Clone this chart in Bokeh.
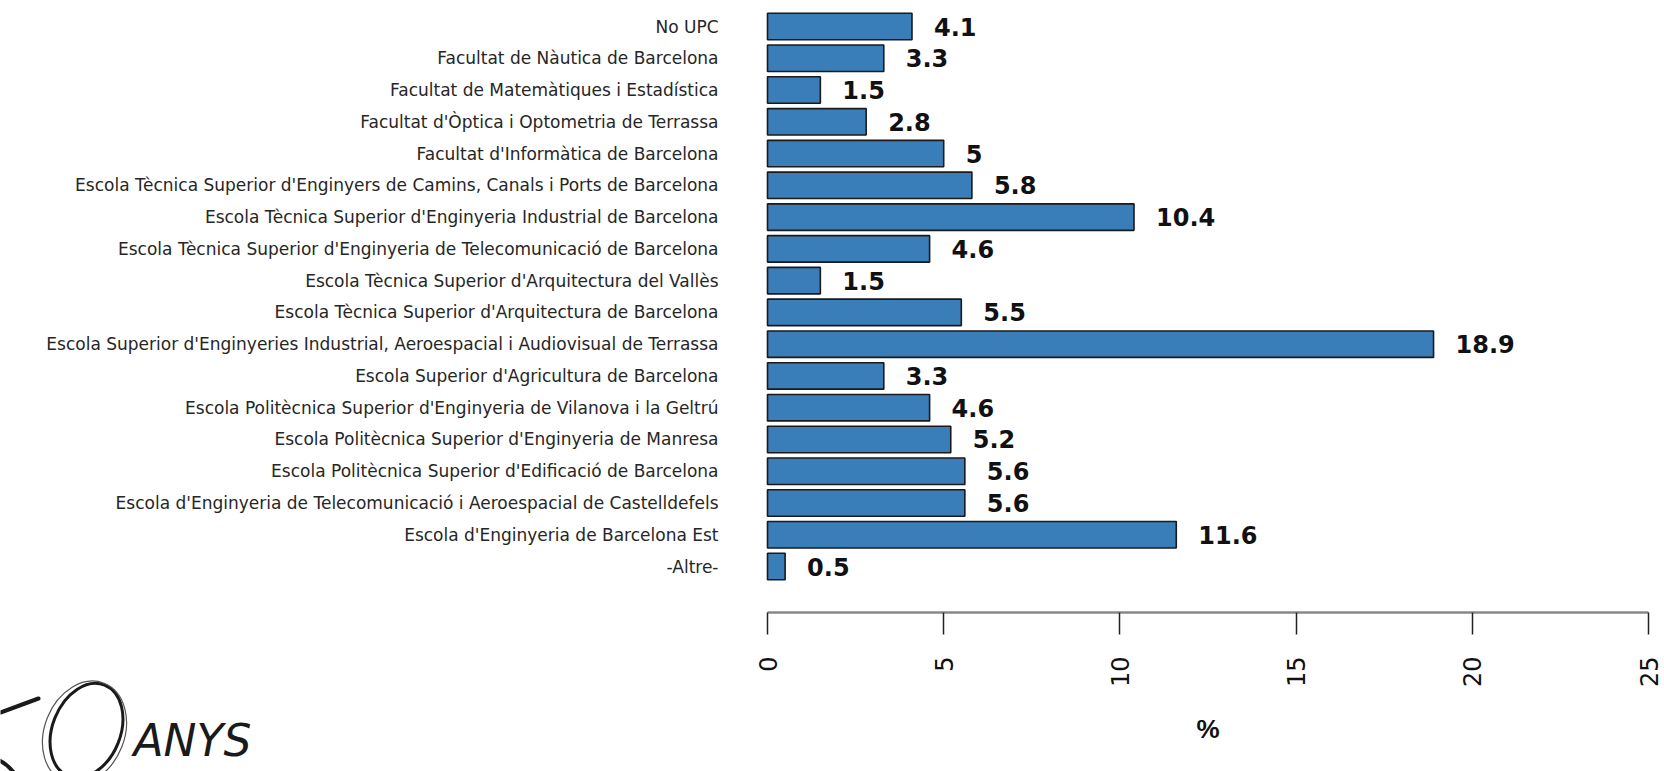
import math
from bokeh.plotting import figure
from bokeh.models import FixedTicker, ColumnDataSource, Range1d
from bokeh.embed import file_html
from bokeh.resources import INLINE
from bokeh.core.properties import value

categories = [
    "No UPC",
    "Facultat de Nàutica de Barcelona",
    "Facultat de Matemàtiques i Estadística",
    "Facultat d'Òptica i Optometria de Terrassa",
    "Facultat d'Informàtica de Barcelona",
    "Escola Tècnica Superior d'Enginyers de Camins, Canals i Ports de Barcelona",
    "Escola Tècnica Superior d'Enginyeria Industrial de Barcelona",
    "Escola Tècnica Superior d'Enginyeria de Telecomunicació de Barcelona",
    "Escola Tècnica Superior d'Arquitectura del Vallès",
    "Escola Tècnica Superior d'Arquitectura de Barcelona",
    "Escola Superior d'Enginyeries Industrial, Aeroespacial i Audiovisual de Terrassa",
    "Escola Superior d'Agricultura de Barcelona",
    "Escola Politècnica Superior d'Enginyeria de Vilanova i la Geltrú",
    "Escola Politècnica Superior d'Enginyeria de Manresa",
    "Escola Politècnica Superior d'Edificació de Barcelona",
    "Escola d'Enginyeria de Telecomunicació i Aeroespacial de Castelldefels",
    "Escola d'Enginyeria de Barcelona Est",
    "-Altre-",
]
values = [4.1, 3.3, 1.5, 2.8, 5, 5.8, 10.4, 4.6, 1.5, 5.5, 18.9, 3.3, 4.6, 5.2, 5.6, 5.6, 11.6, 0.5]
value_labels = ["4.1", "3.3", "1.5", "2.8", "5", "5.8", "10.4", "4.6", "1.5", "5.5", "18.9",
                "3.3", "4.6", "5.2", "5.6", "5.6", "11.6", "0.5"]
x_ticks = [0, 5, 10, 15, 20, 25]
x_label = "%"
logo_text = "ANYS"

n = len(categories)
ypos = [n - 1 - i for i in range(n)]

# ---- layout constants (pixels) ----
W, H = 1664, 771
X0_PX = 767            # page x of value 0
X25_PX = 1648          # page x of value 25
AXIS_PX = 612          # page y of the x axis line
Y_TOP = n - 1 + 0.819
Y_AXIS = -1.448
PXU_Y = AXIS_PX / (Y_TOP - Y_AXIS)
PXU_X = (X25_PX - X0_PX) / 25.0
X_START = -X0_PX / PXU_X
X_END = X_START + W / PXU_X
Y_BOT = Y_TOP - H / PXU_Y


def dx(page_x):
    return X_START + page_x / PXU_X


def dy(page_y):
    return Y_TOP - page_y / PXU_Y


p = figure(width=W, height=H, output_backend="svg", toolbar_location=None,
           x_range=Range1d(X_START, X_END), y_range=Range1d(Y_BOT, Y_TOP),
           min_border=0)
p.outline_line_color = None
p.grid.grid_line_color = None
p.yaxis.visible = False

src = ColumnDataSource(dict(y=ypos, v=values, lab=value_labels, zero=[0] * n, name=categories))

# bars
p.hbar(y="y", left="zero", right="v", height=0.833, source=src,
       fill_color="#3A7EB9", line_color="#1a1a1a", line_width=1.6)
# value labels
p.text(x="v", y="y", text="lab", source=src, x_offset=22,
       text_align="left", text_baseline="middle",
       text_font=value("DejaVu Sans"), text_font_style="bold",
       text_font_size="24px", text_color="#111111")
# category names
p.text(x="zero", y="y", text="name", source=src, x_offset=-49,
       text_align="right", text_baseline="middle",
       text_font=value("DejaVu Sans"), text_font_size="17px",
       text_color="#262626")

# x axis at fixed location, bounded to 0..25
ax = p.xaxis[0]
ax.fixed_location = Y_AXIS
ax.bounds = (0, 25)
ax.ticker = FixedTicker(ticks=x_ticks)
ax.axis_line_color = "#888888"
ax.axis_line_width = 2.5
ax.major_tick_line_color = "#222222"
ax.major_tick_line_width = 1.5
ax.major_tick_out = 22
ax.major_tick_in = 0
ax.minor_tick_line_color = None
ax.major_label_orientation = math.pi / 2
ax.major_label_standoff = 22
ax.major_label_text_font = "DejaVu Sans"
ax.major_label_text_font_size = "24px"
ax.major_label_text_color = "#111111"
ax.axis_label = x_label
ax.axis_label_text_font = "Liberation Sans"
ax.axis_label_text_font_style = "bold"
ax.axis_label_text_font_size = "26px"
ax.axis_label_standoff = 24
ax.axis_label_text_color = "#111111"

# logo "50 ANYS" (decoration, bottom-left)
p.line(x=[dx(0), dx(38)], y=[dy(712), dy(698)], line_width=4,
       line_color="#1a1a1a", line_cap="round")
p.arc(x=[dx(-22)], y=[dy(800)], radius=45, radius_units="screen",
      start_angle=0.55, end_angle=1.35, line_width=4, line_color="#1a1a1a")
p.ellipse(x=[dx(86)], y=[dy(730)], width=68, height=98, width_units="screen",
          height_units="screen", angle=-0.38, fill_color=None,
          line_color="#1a1a1a", line_width=3)
p.ellipse(x=[dx(84)], y=[dy(732)], width=80, height=106, width_units="screen",
          height_units="screen", angle=-0.38, fill_color=None,
          line_color="#555555", line_width=1.2)
p.text(x=[dx(133)], y=[dy(740)], text=[logo_text], text_align="left",
       text_baseline="middle", text_font=value("DejaVu Sans"),
       text_font_style="italic", text_font_size="44px", text_color="#1a1a1a")

open("out.html", "w").write(file_html(p, INLINE))
